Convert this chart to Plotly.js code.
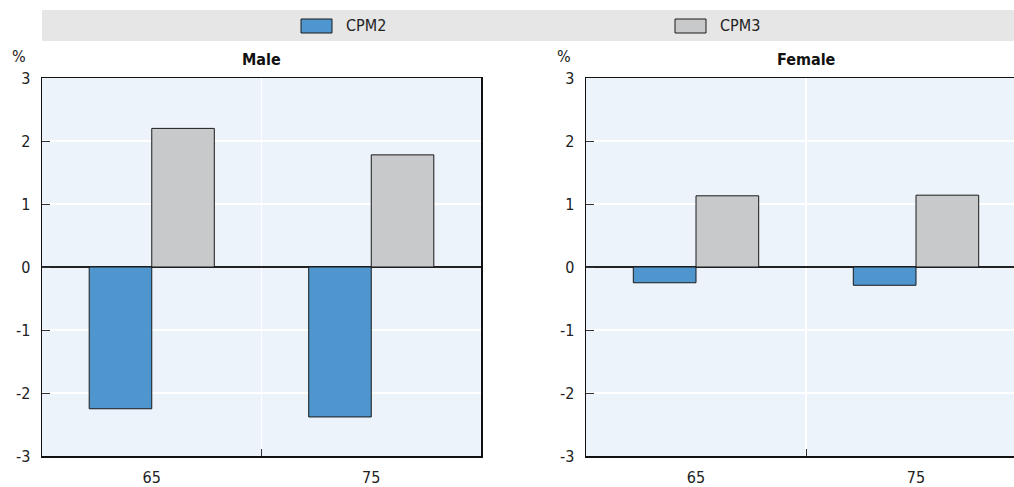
<!DOCTYPE html>
<html>
<head>
<meta charset="utf-8">
<script src="https://cdn.plot.ly/plotly-3.0.1.min.js"></script>
<style>
html,body{margin:0;padding:0;overflow:hidden;background:#fff;}
#chart{width:1026px;height:487px;}
</style>
</head>
<body>
<div id="chart"></div>
<script>
const categories = ['65', '75'];
const seriesNames = ['CPM2', 'CPM3'];
const maleCPM2 = [-2.25, -2.38];
const maleCPM3 = [2.20, 1.78];
const femaleCPM2 = [-0.25, -0.29];
const femaleCPM3 = [1.13, 1.14];
const panelTitles = ['Male', 'Female'];
const yTickVals = [-3, -2, -1, 0, 1, 2, 3];
const yTickText = ['-3', '-2', '-1', '0', '1', '2', '3'];

const FONT = '"Liberation Sans Narrow", "Arial Narrow", "DejaVu Sans Condensed", sans-serif';
const BLUE = '#4e96cd';
const GREY = '#c8c9cb';
const OUT = '#1a1a1a';

function bar(x, y, name, color, xa, ya) {
  return {
    type: 'bar', x: x, y: y, name: name, xaxis: xa, yaxis: ya,
    marker: {color: color, line: {color: OUT, width: 1}},
    showlegend: false, hoverinfo: 'x+y+name'
  };
}

const data = [
  bar(categories, maleCPM2, seriesNames[0], BLUE, 'x', 'y'),
  bar(categories, maleCPM3, seriesNames[1], GREY, 'x', 'y'),
  bar(categories, femaleCPM2, seriesNames[0], BLUE, 'x2', 'y2'),
  bar(categories, femaleCPM3, seriesNames[1], GREY, 'x2', 'y2')
];

const W = 1026, L = 42;
const pw = W - L;
const d1 = [0, (481 - L) / pw];
const d2 = [(586 - L) / pw, 1];

function xax(domain, anchor) {
  return {
    domain: domain, anchor: anchor, type: 'category',
    tickson: 'boundaries', ticks: 'inside', ticklen: 7, tickcolor: '#333', tickwidth: 1,
    showgrid: true, gridcolor: '#ffffff', gridwidth: 1.5,
    showline: true, linecolor: '#111', linewidth: 1.5, mirror: true,
    tickfont: {family: FONT, size: 16, color: '#222'},
    ticklabelstandoff: 6, fixedrange: true
  };
}
function yax(anchor) {
  return {
    anchor: anchor, range: [-3, 3], tickmode: 'array', tickvals: yTickVals, ticktext: yTickText,
    ticks: 'inside', ticklen: 8, tickcolor: '#333', tickwidth: 1,
    showgrid: true, gridcolor: '#ffffff', gridwidth: 1.5,
    zeroline: true, zerolinecolor: '#222', zerolinewidth: 1.2,
    showline: true, linecolor: '#111', linewidth: 1.5, mirror: true,
    tickfont: {family: FONT, size: 16, color: '#222'},
    ticklabelstandoff: 7, fixedrange: true
  };
}

const plotH = 487 - 78 - 31;
function py(pix) { return (487 - 31 - pix) / plotH; }
function px(pix) { return (pix - L) / pw; }

const shapes = [
  {type: 'rect', xref: 'paper', yref: 'paper', x0: 0, x1: 1, y0: py(41), y1: py(10),
   fillcolor: '#e6e6e6', line: {width: 0}, layer: 'below'}
];
const legendColors = [BLUE, GREY];
const legendSwatchX = [301, 675];
const annotations = [];
seriesNames.forEach(function (n, i) {
  shapes.push({type: 'rect', xref: 'paper', yref: 'paper',
    x0: px(legendSwatchX[i]), x1: px(legendSwatchX[i] + 31), y0: py(33), y1: py(19),
    fillcolor: legendColors[i], line: {color: OUT, width: 1}});
  annotations.push({xref: 'paper', yref: 'paper', x: px(legendSwatchX[i] + 43), y: py(26),
    xanchor: 'left', yanchor: 'middle', text: n, showarrow: false,
    font: {family: FONT, size: 16, color: '#222'}});
});
[['x domain', 'Male'], ['x2 domain', 'Female']].forEach(function (p, i) {
  annotations.push({xref: p[0], yref: 'paper', x: 0.5, y: py(59), xanchor: 'center', yanchor: 'middle',
    text: '<b>' + panelTitles[i] + '</b>', showarrow: false, font: {family: FONT, size: 16, color: '#111'}});
});
[19, 564].forEach(function (x0) {
  annotations.push({xref: 'paper', yref: 'paper', x: px(x0), y: py(56), xanchor: 'center', yanchor: 'middle',
    text: '%', showarrow: false, font: {family: FONT, size: 16, color: '#222'}});
});

const layout = {
  width: W, height: 487,
  margin: {l: L, r: 0, t: 78, b: 31},
  paper_bgcolor: '#ffffff', plot_bgcolor: '#ecf3fa',
  barmode: 'group', bargap: 0.43, bargroupgap: 0,
  showlegend: false,
  font: {family: FONT, size: 16, color: '#222'},
  xaxis: xax(d1, 'y'), yaxis: Object.assign(yax('x'), {domain: [0, 1]}),
  xaxis2: xax(d2, 'y2'), yaxis2: Object.assign(yax('x2'), {domain: [0, 1]}),
  shapes: shapes, annotations: annotations
};

Plotly.newPlot('chart', data, layout, {displayModeBar: false, staticPlot: true});
</script>
</body>
</html>
